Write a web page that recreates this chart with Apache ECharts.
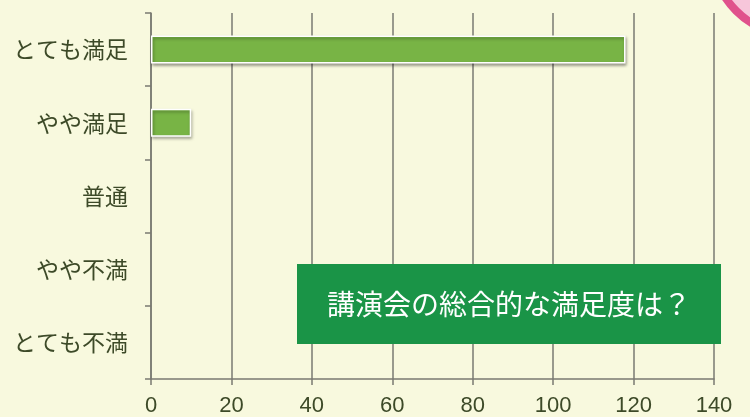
<!DOCTYPE html>
<html>
<head>
<meta charset="utf-8">
<script src="https://cdn.jsdelivr.net/npm/echarts@6/dist/echarts.min.js"></script>
<style>
html,body{margin:0;padding:0;background:#f8f9de;}
#c{width:750px;height:417px;}
</style>
</head>
<body>
<div id="c"></div>
<script>
const categories = ['とても満足', 'やや満足', '普通', 'やや不満', 'とても不満'];
const values = [118, 10, 0, 0, 0];
const xTicks = { min: 0, max: 140, interval: 20 };
const boxTitle = '講演会の総合的な満足度は？';

const chart = echarts.init(document.getElementById('c'), null, { renderer: 'canvas' });
const textColor = '#3d4a28';
const axisColor = '#7a7a72';
const barStyle = {
  color: '#78b445',
  borderColor: '#ffffff',
  borderWidth: 1.5,
  shadowColor: 'rgba(0,0,0,0.35)',
  shadowBlur: 3,
  shadowOffsetX: 1,
  shadowOffsetY: 2
};
chart.setOption({
  backgroundColor: '#f8f9de',
  animation: false,
  grid: { left: 151, right: 36, top: 13, bottom: 38, containLabel: false },
  xAxis: {
    type: 'value',
    min: xTicks.min, max: xTicks.max, interval: xTicks.interval,
    axisLine: { show: true, lineStyle: { color: axisColor, width: 1.5 } },
    axisTick: { show: true, length: 6, lineStyle: { color: axisColor, width: 1.5 } },
    splitLine: { show: true, lineStyle: { color: axisColor, width: 1.5 } },
    axisLabel: { color: textColor, fontSize: 22, fontFamily: 'Liberation Sans, Arial, sans-serif', margin: 16 }
  },
  yAxis: {
    type: 'category',
    data: categories,
    inverse: true,
    axisLine: { show: true, lineStyle: { color: axisColor, width: 1.5 } },
    axisTick: { show: true, length: 6, lineStyle: { color: axisColor, width: 1.5 } },
    axisLabel: { color: textColor, fontSize: 23, fontFamily: 'Noto Sans CJK JP, sans-serif', margin: 23 }
  },
  series: [{
    type: 'bar',
    data: values.map(v => v > 0 ? v : { value: v, itemStyle: { opacity: 0 } }),
    barWidth: 28,
    itemStyle: barStyle
  }],
  graphic: [
    {
      type: 'circle',
      shape: { cx: 797, cy: -50, r: 86 },
      style: { fill: '#f7c6da', stroke: '#e0528c', lineWidth: 8 },
      z: 1
    },
    {
      type: 'rect',
      shape: { x: 297, y: 264, width: 424, height: 80 },
      style: { fill: '#1a9447' },
      z: 10
    },
    {
      type: 'text',
      x: 509, y: 304,
      style: {
        text: boxTitle,
        fill: '#ffffff',
        fontSize: 28,
        fontFamily: 'Noto Sans CJK JP, sans-serif',
        align: 'center',
        verticalAlign: 'middle'
      },
      z: 11
    }
  ]
});
</script>
</body>
</html>
